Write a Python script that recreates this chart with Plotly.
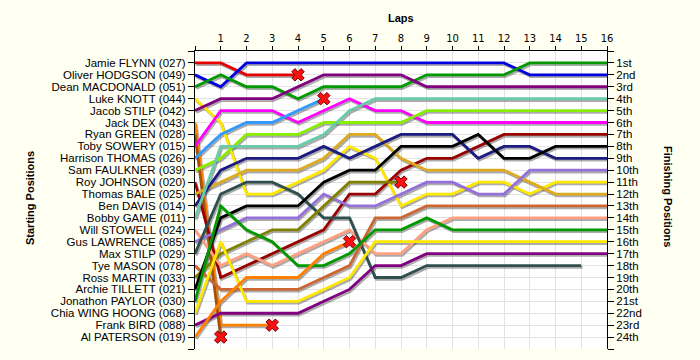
import plotly.graph_objects as go

# ---------------- data ----------------
starting_labels = [
    "Jamie FLYNN (027)", "Oliver HODGSON (049)", "Dean MACDONALD (051)", "Luke KNOTT (044)",
    "Jacob STILP (042)", "Jack DEX (043)", "Ryan GREEN (028)", "Toby SOWERY (015)",
    "Harrison THOMAS (026)", "Sam FAULKNER (039)", "Roy JOHNSON (020)", "Thomas BALE (025)",
    "Ben DAVIS (014)", "Bobby GAME (011)", "Will STOWELL (024)", "Gus LAWRENCE (085)",
    "Max STILP (029)", "Tye MASON (078)", "Ross MARTIN (033)", "Archie TILLETT (021)",
    "Jonathon PAYLOR (030)", "Chia WING HOONG (068)", "Frank BIRD (088)", "Al PATERSON (019)",
]
finishing_labels = [
    "1st", "2nd", "3rd", "4th", "5th", "6th", "7th", "8th", "9th", "10th", "11th", "12th",
    "13th", "14th", "15th", "16th", "17th", "18th", "19th", "20th", "21st", "22nd", "23rd", "24th",
]
lap_ticks = list(range(1, 17))

# positions per lap (lap 0 = grid)
pos_jamie_flynn = [1, 1, 2, 2, 2]
pos_oliver_hodgson = [2, 3, 1, 1, 1, 1, 1, 1, 1, 1, 1, 1, 1, 2, 2, 2, 2]
pos_dean_macdonald = [3, 2, 3, 3, 4, 3, 3, 3, 3, 2, 2, 2, 2, 1, 1, 1, 1]
pos_luke_knott = [4, 6, 12, 12, 11, 10, 8, 9, 13, 12, 12, 11, 11, 12, 11, 11, 11]
pos_jacob_stilp = [5, 4, 4, 4, 3, 2, 2, 2, 2, 3, 3, 3, 3, 3, 3, 3, 3]
pos_jack_dex = [6, 23, 23, 23]
pos_ryan_green = [7, 24]
pos_toby_sowery = [8, 5, 5, 5, 6, 5, 4, 5, 5, 6, 6, 6, 6, 6, 6, 6, 6]
pos_harrison_thomas = [9, 7, 6, 6, 5, 4]
pos_sam_faulkner = [10, 9, 7, 7, 7, 6, 6, 6, 6, 5, 5, 5, 5, 5, 5, 5, 5]
pos_roy_johnson = [11, 19, 18, 17, 16, 15, 12, 12, 10, 9, 9, 8, 7, 7, 7, 7, 7]
pos_thomas_bale = [12, 11, 10, 10, 10, 9, 7, 7, 9, 10, 10, 10, 10, 11, 12, 12, 12]
pos_ben_davis = [13, 10, 9, 9, 9, 8, 9, 8, 7, 7, 7, 9, 8, 8, 9, 9, 9]
pos_bobby_game = [14, 8, 8, 8, 8, 7, 5, 4, 4, 4, 4, 4, 4, 4, 4, 4, 4]
pos_will_stowell = [15, 18, 17, 18, 17, 16, 15, 17, 17, 15, 14, 14, 14, 14, 14, 14, 14]
pos_gus_lawrence = [16, 15, 14, 14, 14, 12, 13, 13, 12, 11, 11, 12, 12, 10, 10, 10, 10]
pos_max_stilp = [17, 12, 11, 11, 12, 14, 14, 19, 19, 18, 18, 18, 18, 18, 18, 18]
pos_tye_mason = [18, 20, 20, 20, 20, 19, 18, 14, 14, 13, 13, 13, 13, 13, 13, 13, 13]
pos_ross_martin = [19, 17, 16, 15, 15, 13, 11, 11, 11]
pos_archie_tillett = [20, 14, 13, 13, 13, 11, 10, 10, 8, 8, 8, 7, 9, 9, 8, 8, 8]
pos_jonathon_paylor = [21, 13, 15, 16, 18, 18, 17, 15, 15, 14, 15, 15, 15, 15, 15, 15, 15]
pos_chia_wing_hoong = [22, 16, 21, 21, 21, 20, 19, 16, 16, 16, 16, 16, 16, 16, 16, 16, 16]
pos_frank_bird = [23, 22, 22, 22, 22, 21, 20, 18, 18, 17, 17, 17, 17, 17, 17, 17, 17]
pos_al_paterson = [24, 21, 19, 19, 19, 17, 16]

driver_positions = [
    pos_jamie_flynn, pos_oliver_hodgson, pos_dean_macdonald, pos_luke_knott,
    pos_jacob_stilp, pos_jack_dex, pos_ryan_green, pos_toby_sowery,
    pos_harrison_thomas, pos_sam_faulkner, pos_roy_johnson, pos_thomas_bale,
    pos_ben_davis, pos_bobby_game, pos_will_stowell, pos_gus_lawrence,
    pos_max_stilp, pos_tye_mason, pos_ross_martin, pos_archie_tillett,
    pos_jonathon_paylor, pos_chia_wing_hoong, pos_frank_bird, pos_al_paterson,
]
retired_drivers = [
    "Jamie FLYNN (027)", "Jack DEX (043)", "Ryan GREEN (028)",
    "Harrison THOMAS (026)", "Ross MARTIN (033)", "Al PATERSON (019)",
]

# ---------------- style ----------------
colors = [
    "#E80000", "#0000E0", "#009A00", "#FFE800", "#800080", "#FF8000", "#A0520A", "#FF00FF",
    "#3399FF", "#88EE00", "#990000", "#DDAA22", "#1C1C80", "#66CCAA", "#FFA080", "#9370DB",
    "#2F4F4F", "#CC6633", "#808000", "#000000", "#009A00", "#FFE800", "#800080", "#FF8000",
]

PLOT_W, PLOT_H = 412, 298
px_x = PLOT_W / 16.0
px_y = PLOT_H / 25.0
dx = 1.2 / px_x
dy = 1.8 / px_y

fig = go.Figure()

# empty traces so that the base subplot and right-hand axis are created
fig.add_trace(go.Scatter(x=[None], y=[None], xaxis="x", yaxis="y", mode="lines", hoverinfo="skip"))
fig.add_trace(go.Scatter(x=[None], y=[None], xaxis="x", yaxis="y4", mode="lines", hoverinfo="skip"))

# shadows
for name, pos in zip(starting_labels, driver_positions):
    fig.add_trace(go.Scatter(
        x=list(range(len(pos))), y=pos, mode="lines", xaxis="x2", yaxis="y2",
        line=dict(color="rgba(70,70,70,0.45)", width=2.8), hoverinfo="skip",
    ))

# lines
for name, pos, col in zip(starting_labels, driver_positions, colors):
    fig.add_trace(go.Scatter(
        x=list(range(len(pos))), y=pos, mode="lines", xaxis="x3", yaxis="y3",
        line=dict(color=col, width=2.8), name=name,
    ))

# retirement markers
for name, pos in zip(starting_labels, driver_positions):
    if name in retired_drivers:
        fig.add_trace(go.Scatter(
            x=[len(pos) - 1], y=[pos[-1]], mode="markers", xaxis="x3", yaxis="y3",
            marker=dict(symbol="x", size=11, color="#FF1010",
                        line=dict(color="#700000", width=1)),
            hoverinfo="skip",
        ))

grid_col = "#E2E2E2"
font_family = "Liberation Sans, Arial, sans-serif"

fig.update_layout(
    width=700, height=360,
    margin=dict(l=195, r=93, t=51, b=11),
    paper_bgcolor="#FFFFF2", plot_bgcolor="#FFFFFF",
    showlegend=False,
    font=dict(family=font_family, size=11, color="black"),
    xaxis=dict(
        range=[0, 16], side="top", tickvals=list(range(0, 17)),
        ticktext=[""] + [str(v) for v in lap_ticks],
        showgrid=True, gridcolor=grid_col, gridwidth=1,
        showline=True, linecolor="black", linewidth=1,
        ticks="outside", ticklen=4, tickcolor="black",
        tickfont=dict(size=10, family="DejaVu Sans, sans-serif"), zeroline=False,
    ),
    yaxis=dict(
        range=[25, 0], tickvals=list(range(0, 26)),
        ticktext=[""] + starting_labels + [""],
        showgrid=True, gridcolor=grid_col, gridwidth=1,
        showline=True, linecolor="black", linewidth=1,
        ticks="outside", ticklen=6, tickcolor="black",
        tickfont=dict(size=11.5), zeroline=False,
    ),
    yaxis4=dict(
        overlaying="y", side="right", anchor="x", range=[25, 0], tickvals=list(range(0, 26)),
        ticktext=[""] + finishing_labels + [""],
        showgrid=False, showline=True, linecolor="black", linewidth=1,
        ticks="outside", ticklen=6, tickcolor="black",
        tickfont=dict(size=11.5), zeroline=False,
    ),
    xaxis2=dict(overlaying="x", range=[-dx, 16 - dx], visible=False),
    yaxis2=dict(overlaying="y", range=[25 - dy, -dy], visible=False),
    xaxis3=dict(overlaying="x", range=[0, 16], visible=False),
    yaxis3=dict(overlaying="y", range=[25, 0], visible=False),
    annotations=[
        dict(text="<b>Laps</b>", xref="paper", yref="paper", x=0.5, y=(349 - 18) / PLOT_H,
             showarrow=False, xanchor="center", yanchor="middle", font=dict(size=11)),
        dict(text="<b>Starting Positions</b>", xref="paper", yref="paper",
             x=(30 - 195) / PLOT_W, y=(349 - 198) / PLOT_H, textangle=-90,
             showarrow=False, xanchor="center", yanchor="middle", font=dict(size=11)),
        dict(text="<b>Finishing Positions</b>", xref="paper", yref="paper",
             x=(668 - 195) / PLOT_W, y=(349 - 196) / PLOT_H, textangle=90,
             showarrow=False, xanchor="center", yanchor="middle", font=dict(size=11)),
    ],
)

fig.write_html(
    "out.html",
    config={"displayModeBar": False},
    post_script="document.body.style.margin='0';document.body.style.padding='0';"
                "document.body.style.background='#FFFFF2';",
)
